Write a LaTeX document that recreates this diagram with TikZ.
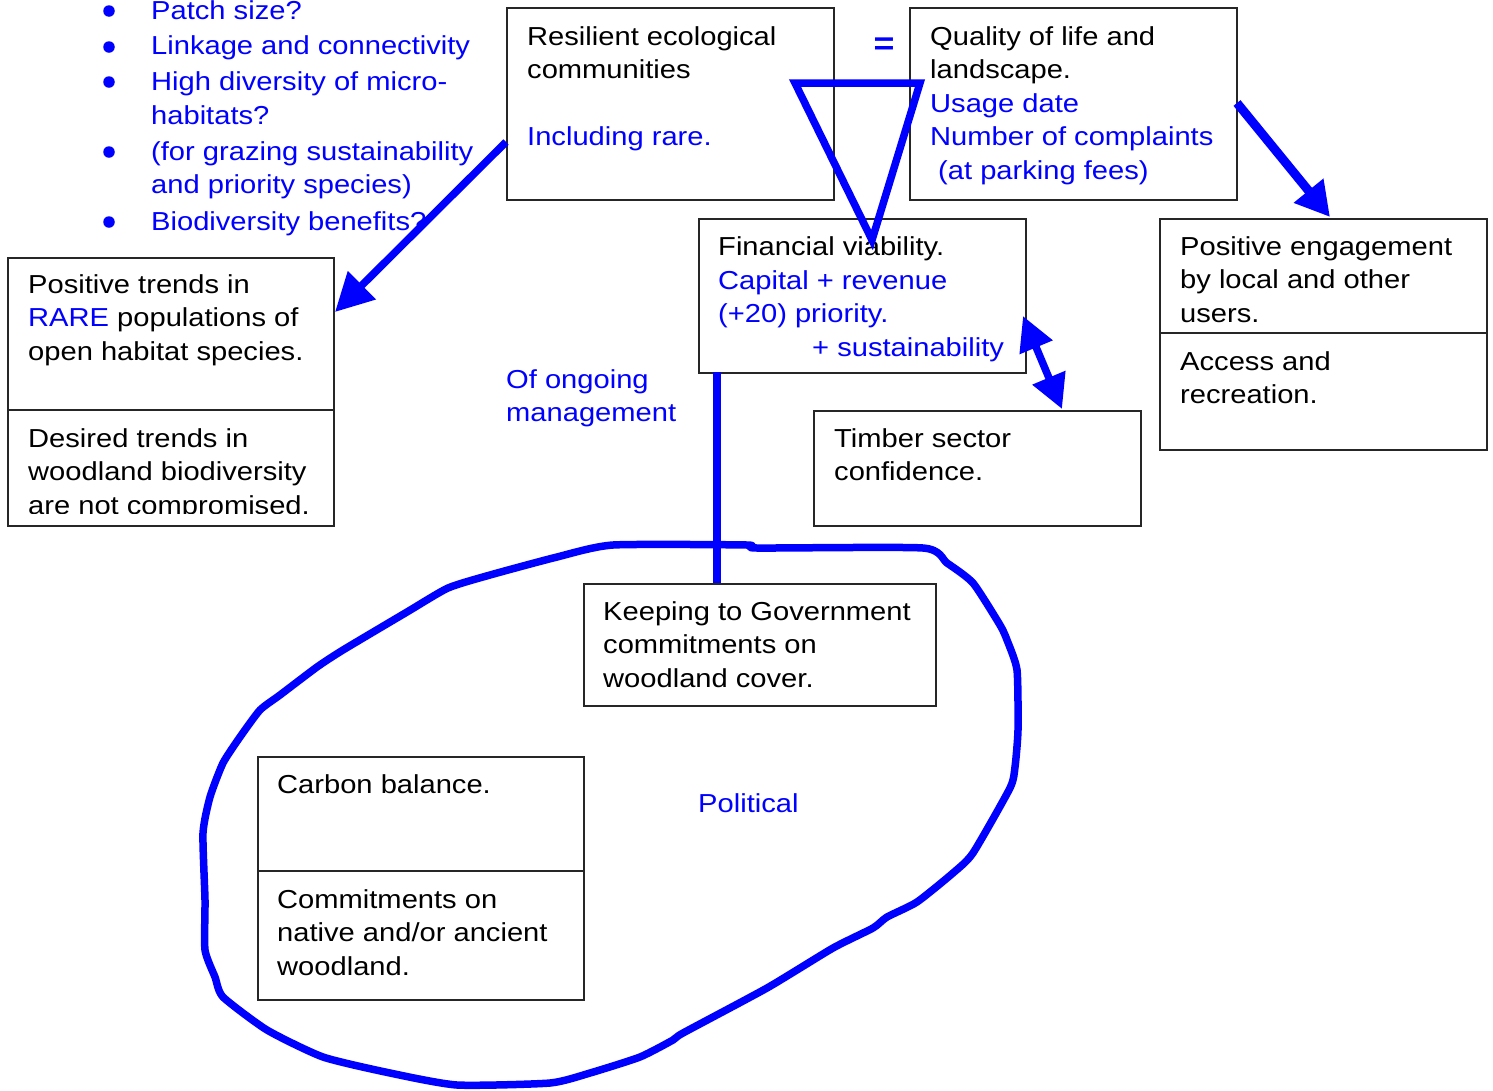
\documentclass[tikz,border=0pt]{standalone}
\usepackage{fontspec}
\setmainfont{Liberation Sans}[FakeStretch=1.12]
\usetikzlibrary{arrows.meta}
\definecolor{ink}{RGB}{0,0,255}
\newcommand{\tbx}[1]{\parbox[t]{500pt}{\raggedright #1}}
\begin{document}
\begin{tikzpicture}[x=1pt,y=-1pt,
  box/.style={draw=black!85, line width=1.8pt, inner sep=0, anchor=north west, fill=white},
  txt/.style={anchor=base west, inner sep=0, font=\fontsize{26}{33.5}\selectfont},
  btxt/.style={txt, text=ink},
  blueline/.style={draw=ink, line width=7.5pt},
  dot/.style={circle, fill=ink, inner sep=0, minimum size=11.5pt},
  bigtip/.style={-{Triangle[length=38pt,width=38pt]}}]
\useasboundingbox (0,0) rectangle (1493,1090);

% boxes
\node[box, minimum width=327pt, minimum height=192pt] (res) at (506,7) {};
\node[box, minimum width=327pt, minimum height=192pt] (qual) at (909,7) {};
\node[box, minimum width=327pt, minimum height=154pt] (fin) at (698,218) {};
\node[box, minimum width=327pt, minimum height=231pt] (eng) at (1159,218) {};
\node[box, minimum width=326pt, minimum height=268pt] (lt) at (7,257) {};
\node[box, minimum width=327pt, minimum height=115pt] (tim) at (813,410) {};
\node[box, minimum width=352pt, minimum height=122pt] (keep) at (583,583) {};
\node[box, minimum width=326pt, minimum height=243pt] (carb) at (257,756) {};
\draw[black!85, line width=1.8pt] (lt.west |- 0,410) -- (lt.east |- 0,410);
\draw[black!85, line width=1.8pt] (eng.west |- 0,333) -- (eng.east |- 0,333);
\draw[black!85, line width=1.8pt] (carb.west |- 0,871) -- (carb.east |- 0,871);

% bullet list
\node[dot] (b1) at (109,11) {};
\node[dot] (b2) at (109,47) {};
\node[dot] (b3) at (109,82) {};
\node[dot] (b4) at (109,152) {};
\node[dot] (b5) at (109,222) {};
\node[btxt] (l1) at (151,19) {\tbx{Patch size?}};
\node[btxt] (l2) at (151,54) {\tbx{Linkage and connectivity}};
\node[btxt] (l3) at (151,90.5) {\tbx{High diversity of micro-\\habitats?}};
\node[btxt] (l4) at (151,160) {\tbx{(for grazing sustainability\\and priority species)}};
\node[btxt] (l5) at (151,230) {\tbx{Biodiversity benefits?}};

% texts
\node[txt] (tres) at (527,45) {\tbx{Resilient ecological\\communities}};
\node[btxt] (tres2) at (527,145.5) {\tbx{Including rare.}};
\node[text=ink, inner sep=0, font=\fontsize{32}{32}\selectfont\bfseries] (eq) at (884,46) {=};
\node[txt] (tq) at (930,45) {\tbx{Quality of life and\\landscape.}};
\node[btxt] (tq2) at (930,112) {\tbx{Usage date\\Number of complaints}};
\node[btxt] (tq3) at (938,179) {\tbx{(at parking fees)}};
\node[txt] (tf) at (718,255) {\tbx{Financial viability.}};
\node[btxt] (tf2) at (718,289) {\tbx{Capital + revenue\\(+20) priority.}};
\node[btxt] (tf3) at (812,356) {\tbx{+ sustainability}};
\node[txt] (te) at (1180,255) {\tbx{Positive engagement\\by local and other\\users.}};
\node[txt] (te2) at (1180,370) {\tbx{Access and\\recreation.}};
\node[txt] (tl) at (28,293) {\tbx{Positive trends in\\\textcolor{ink}{RARE} populations of\\open habitat species.}};
\begin{scope}
\clip (7,411) rectangle (333,513);
\node[txt] (tl2) at (28,447) {\tbx{Desired trends in\\woodland biodiversity\\are not compromised.}};
\end{scope}
\node[txt] (tt) at (834,447) {\tbx{Timber sector\\confidence.}};
\node[txt] (tk) at (603,620) {\tbx{Keeping to Government\\commitments on\\woodland cover.}};
\node[txt] (tc) at (277,793) {\tbx{Carbon balance.}};
\node[txt] (tc2) at (277,908) {\tbx{Commitments on\\native and/or ancient\\woodland.}};
\node[btxt] (tog) at (506,388) {\tbx{Of ongoing\\management}};
\node[btxt] (tpol) at (698,812) {\tbx{Political}};

% political loop
\draw[blueline, line join=round] plot[smooth cycle, tension=0.35] coordinates {
(613,545) (747,545) (757,548) (923,548) (947,563) (973,583) (1000,625) (1007,640)
(1017,670) (1018,730) (1015,767) (1010,788) (973,853) (953,873) (917,902) (887,917)
(873,928) (833,948) (767,988) (683,1033) (673,1040) (640,1057) (590,1073) (550,1083)
(457,1085) (390,1073) (323,1057) (267,1030) (223,997) (215,977) (205,950) (205,900)
(203,833) (210,797) (223,763) (240,737) (260,710) (280,695) (317,667) (343,650)
(407,612) (448,588) (490,575) (557,557)};

% connectors
\coordinate (finb) at (717,372);
\coordinate (keept) at (717,583);
\draw[blueline] (finb) -- (keept);

\coordinate (tA) at (795,83);
\coordinate (tB) at (920,83);
\coordinate (tC) at (872,240);
\draw[blueline, line join=miter] (tA) -- (tB) -- (tC) -- cycle;

\coordinate (resw) at (506,142);
\coordinate (lte) at (335,312);
\draw[blueline, bigtip] (resw) -- (lte);

\coordinate (quale) at (1237,103);
\coordinate (engn) at (1330,217);
\draw[blueline, line width=9pt, -{Triangle[length=34pt,width=36pt]}] (quale) -- (engn);

\coordinate (fine) at (1023,316);
\coordinate (timn) at (1062,409);
\draw[blueline, {Triangle[length=34pt,width=34pt]}-{Triangle[length=34pt,width=34pt]}] (fine) -- (timn);
\end{tikzpicture}
\end{document}
